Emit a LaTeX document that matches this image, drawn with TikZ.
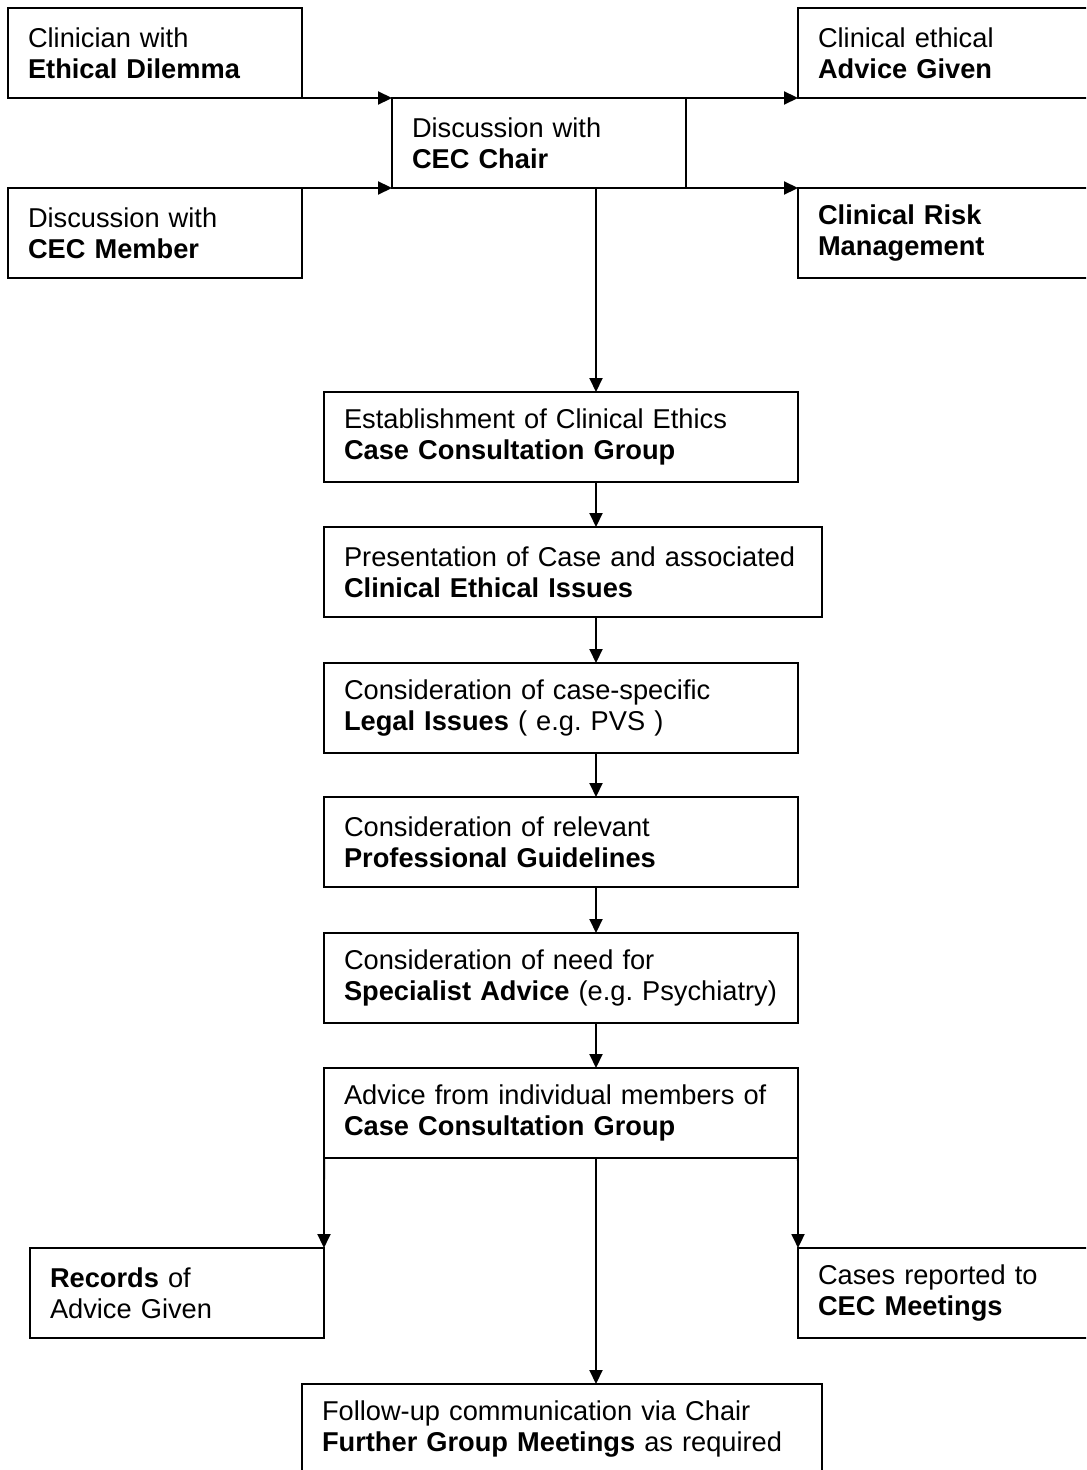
\documentclass[tikz,border=0pt]{standalone}
\usepackage{fontspec}
\setmainfont{Liberation Sans}
\usepackage{tikz}
\usetikzlibrary{arrows.meta}
\frenchspacing
\tikzstyle{link}=[-{Triangle[length=0.28cm,width=0.26cm]}]
\tikzstyle{box}=[draw, outer sep=0pt, inner xsep=0.4cm, align=left,
  minimum height=1.8cm, font=\fontsize{15.5pt}{17.9pt}\selectfont]
\tikzset{every picture/.style={
    line width=1.1pt
  }
}

\begin{document}
\begin{tikzpicture}[x=0.02cm,y=-0.02cm]
            \useasboundingbox (0,0) rectangle (1086,1470);
            \clip (0,0) rectangle (1086,1470);
            \coordinate (spine) at (596,0);
            % first contact
            \node[box,text width=5.08cm] (clin) at (155,53) {Clinician with\\\textbf{Ethical Dilemma}};
            \node[box,text width=5.08cm] (member) at (155,233) {Discussion with\\\textbf{CEC Member}};
            \node[box,text width=5.08cm] (chair) at (539,143) {Discussion with\\\textbf{CEC Chair}};
            \node[box,text width=5.08cm] (given) at (945,53) {Clinical ethical\\\textbf{Advice Given}};
            \node[box,text width=5.08cm] (risk) at (945,233) {\textbf{Clinical Risk}\\\textbf{Management}};
            % case consultation
            \node[box,text width=8.68cm] (group) at (561,437) {Establishment of Clinical Ethics\\\textbf{Case Consultation Group}};
            \node[box,text width=9.16cm] (present) at (573,572) {Presentation of Case and associated\\\textbf{Clinical Ethical Issues}};
            \node[box,text width=8.68cm] (legal) at (561,708) {Consideration of case-specific\\\textbf{Legal Issues} ( e.g. PVS )};
            \node[box,text width=8.68cm] (guide) at (561,842) {Consideration of relevant\\\textbf{Professional Guidelines}};
            \node[box,text width=8.68cm] (expert) at (561,978) {Consideration of need for\\\textbf{Specialist Advice} (e.g. Psychiatry)};
            \node[box,text width=8.68cm] (members) at (561,1113) {Advice from individual members of\\\textbf{Case Consultation Group}};
            % outcomes
            \node[box,text width=5.08cm] (records) at (177,1293) {\textbf{Records} of\\Advice Given};
            \node[box,text width=5.08cm] (cases) at (945,1293) {Cases reported to\\\textbf{CEC Meetings}};
            \node[box,text width=9.6cm] (follow) at (562,1429) {Follow-up communication via Chair\\\textbf{Further Group Meetings} as required};
            \draw[link] (clin.south east) -- (chair.north west);
            \draw[link] (member.north east) -- (chair.south west);
            \draw[link] (chair.north east) -- (given.south west);
            \draw[link] (chair.south east) -- (risk.north west);
            \draw[link] (chair.south -| spine) -- (group.north -| spine);
            \draw[link] (group.south -| spine) -- (present.north -| spine);
            \draw[link] (present.south -| spine) -- (legal.north -| spine);
            \draw[link] (legal.south -| spine) -- (guide.north -| spine);
            \draw[link] (guide.south -| spine) -- (expert.north -| spine);
            \draw[link] (expert.south -| spine) -- (members.north -| spine);
            \draw[link] (members.south west) -- (records.north east);
            \draw[link] (members.south east) -- (cases.north west);
            \draw[link] (members.south -| spine) -- (follow.north -| spine);
\end{tikzpicture}
\end{document}
